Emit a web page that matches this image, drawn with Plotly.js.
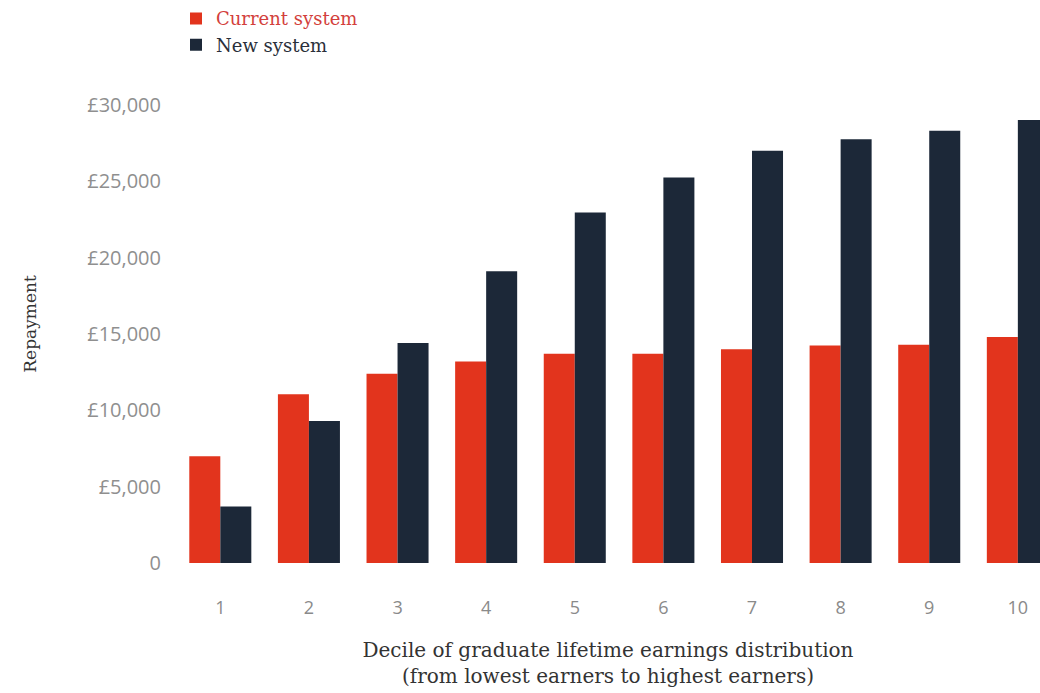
<!DOCTYPE html>
<html>
<head>
<meta charset="utf-8">
<script src="https://cdn.plot.ly/plotly-3.0.1.min.js"></script>
<style>html,body{margin:0;padding:0;background:#fff;}#chart{width:1040px;height:693px;}</style>
</head>
<body>
<div id="chart"></div>
<script>
// Data
const deciles = [1, 2, 3, 4, 5, 6, 7, 8, 9, 10];
const currentSystem = [7000, 11050, 12400, 13200, 13700, 13700, 14000, 14250, 14300, 14800];
const newSystem = [3700, 9300, 14400, 19100, 22950, 25250, 27000, 27750, 28300, 29000];
const yTickVals = [0, 5000, 10000, 15000, 20000, 25000, 30000];
const yTickText = ['0', '£5,000', '£10,000', '£15,000', '£20,000', '£25,000', '£30,000'];
const seriesNames = ['Current system', 'New system'];

const RED = '#e2341d';
const NAVY = '#1c2838';
const SERIF = 'DejaVu Serif, Liberation Serif, serif';

const traces = [
  {
    type: 'bar', x: deciles, y: currentSystem,
    name: '<span style="color:#d33f3c">' + seriesNames[0] + '</span>',
    marker: {color: RED}, hoverinfo: 'x+y'
  },
  {
    type: 'bar', x: deciles, y: newSystem,
    name: '<span style="color:#2a2f3a">' + seriesNames[1] + '</span>',
    marker: {color: NAVY}, hoverinfo: 'x+y'
  }
];

const layout = {
  width: 1040, height: 693,
  paper_bgcolor: '#ffffff', plot_bgcolor: '#ffffff',
  margin: {l: 176, r: 0, t: 65, b: 112},
  barmode: 'group', bargap: 0.3, bargroupgap: 0,
  showlegend: true,
  legend: {
    x: 0.0, y: 1.13, xanchor: 'left', yanchor: 'top',
    font: {family: SERIF, size: 18, color: '#333'},
    bgcolor: 'rgba(0,0,0,0)', tracegroupgap: 0, itemclick: false
  },
  xaxis: {
    range: [0.5, 10.25], showgrid: false, zeroline: false, showline: false,
    tickvals: deciles, ticktext: deciles.map(String), ticks: '',
    ticklabelstandoff: 14,
    tickfont: {family: 'Open Sans, sans-serif', size: 18, color: '#8a8a8a'},
    title: {
      text: 'Decile of graduate lifetime earnings distribution<br>(from lowest earners to highest earners)',
      font: {family: SERIF, size: 20, color: '#333'},
      standoff: 24
    },
    fixedrange: true
  },
  yaxis: {
    range: [-1174, 32478], showgrid: false, zeroline: false, showline: false,
    tickvals: yTickVals, ticktext: yTickText, ticks: '',
    ticklabelstandoff: 14,
    tickfont: {family: 'Open Sans, sans-serif', size: 20, color: '#8f8f8f'},
    title: {
      text: 'Repayment',
      font: {family: SERIF, size: 17, color: '#333'},
      standoff: 46
    },
    fixedrange: true
  }
};

Plotly.newPlot('chart', traces, layout, {displayModeBar: false, staticPlot: true});
</script>
</body>
</html>
